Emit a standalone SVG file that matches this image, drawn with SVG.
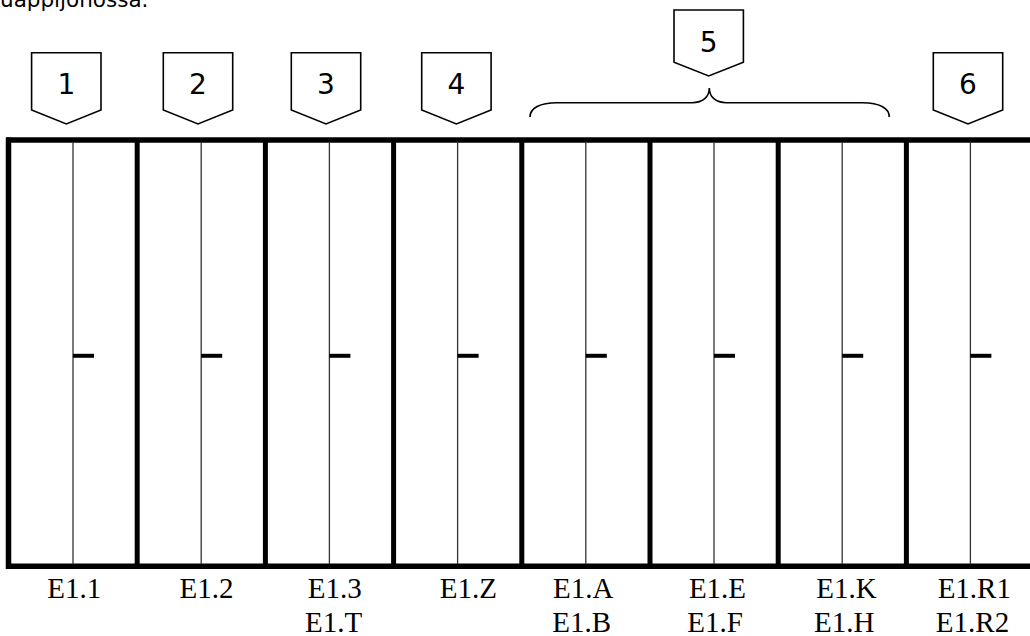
<svg xmlns="http://www.w3.org/2000/svg" width="1030" height="636" viewBox="0 0 1030 636">
<style>
.frame{stroke:#000;stroke-width:5.5;fill:none}
.div{stroke:#000;stroke-width:5;fill:none}
.thin{stroke:#333;stroke-width:1.3;fill:none}
.handle{stroke:#000;stroke-width:4;fill:none}
.call{fill:#fff;stroke:#000;stroke-width:1.6;stroke-linejoin:miter}
.num{font-family:"DejaVu Sans",Verdana,sans-serif;font-size:28px;fill:#000;text-anchor:middle}
.lbl{font-family:"Liberation Serif","Times New Roman",serif;font-size:29px;fill:#000;text-anchor:middle}
.cap{font-family:"DejaVu Sans",Verdana,sans-serif;font-size:21.5px;fill:#000}
.brace{stroke:#000;stroke-width:1.6;fill:none}
</style>
<rect width="1030" height="636" fill="#fff"/>
<text class="cap" x="0" y="7">uappijonossa.</text>

<g id="frame">
<line class="frame" x1="6" y1="140" x2="1030" y2="140"/>
<line class="frame" x1="6" y1="566.3" x2="1030" y2="566.3"/>
<line class="frame" x1="8.5" y1="137.5" x2="8.5" y2="569"/>
</g>

<g id="col1">
<line class="thin" x1="73" y1="142" x2="73" y2="564"/>
<line class="handle" x1="73" y1="355.8" x2="94" y2="355.8"/>
<text class="lbl" x="74.2" y="598">E1.1</text>
</g>
<g id="col2">
<line class="div" x1="137.2" y1="142" x2="137.2" y2="564"/>
<line class="thin" x1="201.2" y1="142" x2="201.2" y2="564"/>
<line class="handle" x1="201.2" y1="355.8" x2="222.2" y2="355.8"/>
<text class="lbl" x="206.5" y="598">E1.2</text>
</g>
<g id="col3">
<line class="div" x1="265.4" y1="142" x2="265.4" y2="564"/>
<line class="thin" x1="329.4" y1="142" x2="329.4" y2="564"/>
<line class="handle" x1="329.4" y1="355.8" x2="350.4" y2="355.8"/>
<text class="lbl" x="334.8" y="598">E1.3</text>
<text class="lbl" x="333.7" y="632">E1.T</text>
</g>
<g id="col4">
<line class="div" x1="393.6" y1="142" x2="393.6" y2="564"/>
<line class="thin" x1="457.6" y1="142" x2="457.6" y2="564"/>
<line class="handle" x1="457.6" y1="355.8" x2="478.6" y2="355.8"/>
<text class="lbl" x="468.3" y="598">E1.Z</text>
</g>
<g id="col5">
<line class="div" x1="521.8" y1="142" x2="521.8" y2="564"/>
<line class="thin" x1="585.8" y1="142" x2="585.8" y2="564"/>
<line class="handle" x1="585.8" y1="355.8" x2="606.8" y2="355.8"/>
<text class="lbl" x="583.3" y="598">E1.A</text>
<text class="lbl" x="581.7" y="632">E1.B</text>
</g>
<g id="col6">
<line class="div" x1="650" y1="142" x2="650" y2="564"/>
<line class="thin" x1="714" y1="142" x2="714" y2="564"/>
<line class="handle" x1="714" y1="355.8" x2="735" y2="355.8"/>
<text class="lbl" x="717.5" y="598">E1.E</text>
<text class="lbl" x="715" y="632">E1.F</text>
</g>
<g id="col7">
<line class="div" x1="778.2" y1="142" x2="778.2" y2="564"/>
<line class="thin" x1="842.2" y1="142" x2="842.2" y2="564"/>
<line class="handle" x1="842.2" y1="355.8" x2="863.2" y2="355.8"/>
<text class="lbl" x="846.5" y="598">E1.K</text>
<text class="lbl" x="844.3" y="632">E1.H</text>
</g>
<g id="col8">
<line class="div" x1="906.4" y1="142" x2="906.4" y2="564"/>
<line class="thin" x1="970.4" y1="142" x2="970.4" y2="564"/>
<line class="handle" x1="970.4" y1="355.8" x2="991.4" y2="355.8"/>
<text class="lbl" x="974.3" y="598">E1.R1</text>
<text class="lbl" x="972.5" y="632">E1.R2</text>
</g>

<g id="callout1">
<polygon class="call" points="31.6,52.7 101,52.7 101,110 66.3,124 31.6,110"/>
<text class="num" x="66.3" y="94.3">1</text>
</g>
<g id="callout2">
<polygon class="call" points="163.3,52.7 232.7,52.7 232.7,110 198,124 163.3,110"/>
<text class="num" x="198" y="94.3">2</text>
</g>
<g id="callout3">
<polygon class="call" points="291.3,52.7 360.7,52.7 360.7,110 326,124 291.3,110"/>
<text class="num" x="326" y="94.3">3</text>
</g>
<g id="callout4">
<polygon class="call" points="421.7,52.7 491.1,52.7 491.1,110 456.4,124 421.7,110"/>
<text class="num" x="456.4" y="94.3">4</text>
</g>
<g id="callout5">
<polygon class="call" points="674,10 743.4,10 743.4,62.3 708.7,76 674,62.3"/>
<text class="num" x="708.7" y="51.7">5</text>
</g>
<g id="callout6">
<polygon class="call" points="933.3,52.7 1002.7,52.7 1002.7,110 968,124 933.3,110"/>
<text class="num" x="968" y="94.3">6</text>
</g>

<g id="connectors">
<path class="brace" d="M530,117 C530,108 540,102.7 557,102.7 L692,102.7 C703,102.7 709.3,97 709.3,88 C709.3,97 715.6,102.7 726.6,102.7 L863,102.7 C879,102.7 889.3,108 889.3,117"/>
</g>
</svg>
